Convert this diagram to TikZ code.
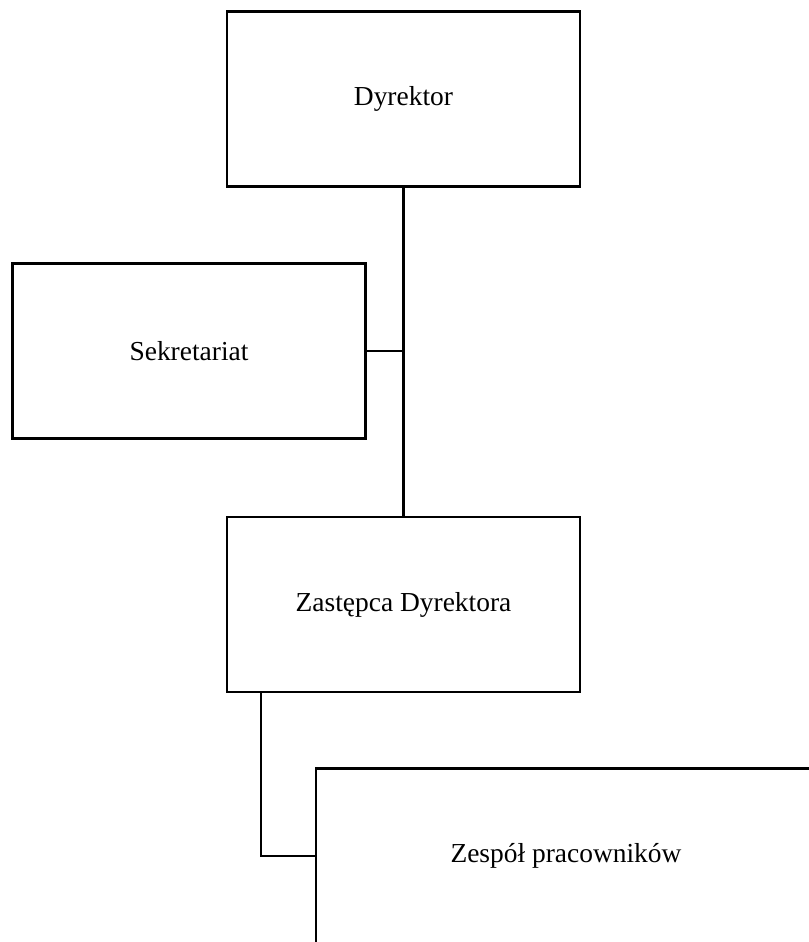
\documentclass[tikz,border=0pt]{standalone}
\usepackage{fontspec}
\setmainfont{Liberation Serif}
\usetikzlibrary{positioning}
\newcommand{\px}{0.4444pt}

\begin{document}
\begin{tikzpicture}[
    x=\px, y=-\px,
    on grid,
    every node/.style={font=\fontsize{12.2}{14}\selectfont},
    unit/.style={draw=black, line width=0.9pt, inner sep=0pt,
                 minimum width=353*\px, minimum height=175*\px},
    link/.style={line width=0.9pt}
]
   \useasboundingbox (0,0) rectangle (809,942);

   % Units
   \node[unit] (dyr) at (403.5,99) {Dyrektor};
   \node[unit] (sek) [below left=252*\px and 214.5*\px of dyr] {Sekretariat};
   \node[unit] (zast) [below=505.5*\px of dyr] {Zastępca Dyrektora};
   \node[unit, minimum width=500*\px] (zesp) [below right=251.5*\px and 162.5*\px of zast] {Zespół pracowników};

   % Links
   \coordinate (zs) at ([xshift=35*\px]zast.south west);
   \draw[link] (dyr.south) -- (zast.north);
   \draw[link] (sek.east) -- (sek.east -| dyr.south);
   \draw[link] (zs) |- (zesp.west);
\end{tikzpicture}
\end{document}
